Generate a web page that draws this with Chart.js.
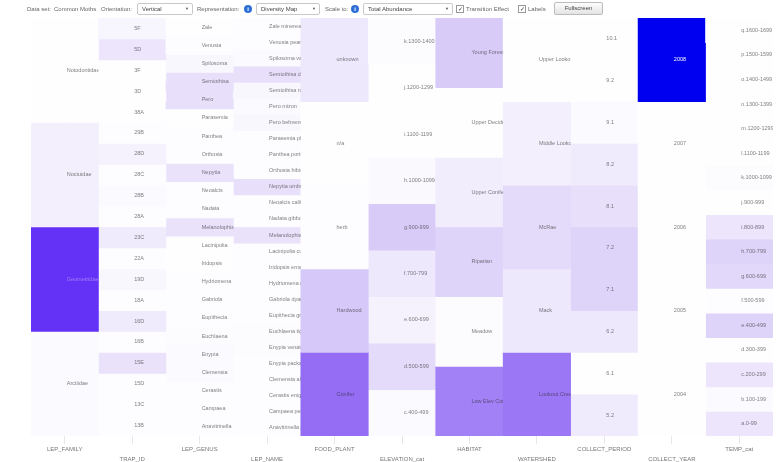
<!DOCTYPE html>
<html>
<head>
<meta charset="utf-8">
<script src="https://cdn.jsdelivr.net/npm/chart.js@4.4.0/dist/chart.umd.min.js"></script>
<style>
  html, body { margin: 0; padding: 0; background: #fff; }
  #wrap { position: relative; width: 778px; height: 462px; overflow: hidden; }
  #chart { position: absolute; left: 0; top: 0; }
  .bar { position: absolute; left: 0; top: 0; width: 778px; height: 18px; font: 6px "Liberation Sans", Arial, sans-serif; color: #666; }
  .bar > div { position: absolute; }
  .txt { top: 6px; white-space: nowrap; }
  .sel { top: 3px; height: 12px; border: 1px solid #c9c9c9; border-radius: 2px; background: #fff; box-sizing: border-box; line-height: 10px; padding-left: 4px; color: #444; }
  .sel span { position: absolute; right: 3px; top: 0; font-size: 4px; color: #555; }
  .info { top: 5px; width: 8px; height: 8px; border-radius: 50%; background: #2d6fd6; color: #fff; font: bold 6px "Liberation Sans", Arial, sans-serif; text-align: center; line-height: 8px; }
  .chk { top: 5px; width: 6px; height: 6px; border: 1px solid #999; background: #fff; font-size: 6px; line-height: 6px; color: #333; text-align: center; }
  .btn { top: 2px; height: 13px; border: 1px solid #bbb; border-radius: 2px; background: linear-gradient(#fdfdfd, #e4e4e4); box-sizing: border-box; text-align: center; line-height: 11px; color: #444; }
</style>
</head>
<body>
<div id="wrap">
  <canvas id="chart" width="778" height="462"></canvas>
  <div class="bar">
    <div class="txt" style="left:27px">Data set:</div>
    <div class="txt" style="left:54px">Common Moths</div>
    <div class="txt" style="left:101px">Orientation:</div>
    <div class="sel" style="left:137px;width:56px">Vertical<span>&#9660;</span></div>
    <div class="txt" style="left:197px">Representation:</div>
    <div class="info" style="left:244px">i</div>
    <div class="sel" style="left:256px;width:64px">Diversity Map<span>&#9660;</span></div>
    <div class="txt" style="left:325px">Scale to:</div>
    <div class="info" style="left:351px">i</div>
    <div class="sel" style="left:363px;width:90px">Total Abundance<span>&#9660;</span></div>
    <div class="chk" style="left:456px">&#10003;</div>
    <div class="txt" style="left:466px">Transition Effect</div>
    <div class="chk" style="left:518px">&#10003;</div>
    <div class="txt" style="left:528px">Labels</div>
    <div class="btn" style="left:554px;width:49px">Fullscreen</div>
  </div>
</div>
<script>
// columns of the diversity map
const columns = ['LEP_FAMILY', 'TRAP_ID', 'LEP_GENUS', 'LEP_NAME', 'FOOD_PLANT', 'ELEVATION_cat',
  'HABITAT', 'WATERSHED', 'COLLECT_PERIOD', 'COLLECT_YEAR', 'TEMP_cat'];

// categories and abundance (relative, 0-100) per column, top to bottom
const familyCats = ['Notodontidae', 'Noctuidae', 'Geometridae', 'Arctiidae'];
const familyVals = [0.5, 6, 70, 2];

const trapCats = ['5F', '5D', '3F', '3D', '38A', '29B', '28D', '28C', '28B', '28A',
  '23C', '22A', '19D', '18A', '16D', '16B', '15E', '15D', '13C', '13B'];
const trapVals = [4, 10, 0.5, 0.5, 0.5, 1, 5, 1, 2, 1, 8, 1, 3, 1, 8, 1, 11, 1, 1, 1];

const genusCats = ['Zale', 'Venusia', 'Spilosoma', 'Semiothisa', 'Pero', 'Parasemia', 'Panthea',
  'Orthosia', 'Nepytia', 'Neoalcis', 'Nadata', 'Melanolophia', 'Lacinipolia', 'Iridopsis',
  'Hydriomena', 'Gabriola', 'Eupithecia', 'Euchlaena', 'Enypia', 'Clemensia', 'Cerastis',
  'Campaea', 'Anavitrinella'];
const genusVals = [0.5, 1, 3, 12, 12, 0.5, 1, 1, 11, 1, 1, 11, 0.5, 0.5, 1, 1, 1, 1.5, 2, 2, 1, 1, 1];

const nameCats = ['Zale minerea', 'Venusia pearsalli', 'Spilosoma vagans', 'Semiothisa denticulata',
  'Semiothisa neptaria', 'Pero mizon', 'Pero behrensaria', 'Parasemia plantaginis',
  'Panthea portlandia', 'Orthosia hibisci', 'Nepytia umbrosaria', 'Neoalcis californiaria',
  'Nadata gibbosa', 'Melanolophia imitata', 'Lacinipolia cuneata', 'Iridopsis emasculata',
  'Hydriomena nubilofasciata', 'Gabriola dyari', 'Eupithecia graefii', 'Euchlaena tigrinaria',
  'Enypia venata', 'Enypia packardata', 'Clemensia albata', 'Cerastis enigmatica',
  'Campaea perlata', 'Anavitrinella pampinaria'];
const nameVals = [1, 1, 2, 12, 3, 2, 3, 1, 1, 1, 12, 1, 1, 11, 1, 1, 1, 1, 1, 1.5, 1.5, 1, 1, 1, 1, 1];

const foodCats = ['unknown', 'n/a', 'herb', 'Hardwood', 'Conifer'];
const foodVals = [9, 0.5, 1, 21, 52];

const elevCats = ['k.1300-1400', 'j.1200-1299', 'i.1100-1199', 'h.1000-1099', 'g.900-999',
  'f.700-799', 'e.600-699', 'd.500-599', 'c.400-499'];
const elevVals = [1.5, 0.5, 0.5, 2.5, 20, 9, 5, 14, 2];

const habitatCats = ['Young Forest', 'Upper Deciduous', 'Upper Conifer', 'Riparian', 'Meadow', 'Low Elev Conifer'];
const habitatVals = [20, 0.5, 7, 17, 1.5, 46];

const shedCats = ['Upper Lookout', 'Middle Lookout', 'McRae', 'Mack', 'Lookout Creek'];
const shedVals = [0.5, 6, 14, 9, 49];

const periodCats = ['10.1', '9.2', '9.1', '8.2', '8.1', '7.2', '7.1', '6.2', '6.1', '5.2'];
const periodVals = [0.5, 0.5, 2, 8, 12, 17, 17, 9, 0.5, 8];

const yearCats = ['2008', '2007', '2006', '2005', '2004'];
const yearVals = [100, 0.5, 0.5, 0.5, 0.5];

const tempCats = ['q.1600-1699', 'p.1500-1599', 'o.1400-1499', 'n.1300-1399', 'm.1200-1299',
  'l.1100-1199', 'k.1000-1099', 'j.900-999', 'i.800-899', 'h.700-799', 'g.600-699',
  'f.500-599', 'e.400-499', 'd.300-399', 'c.200-299', 'b.100-199', 'a.0-99'];
const tempVals = [0.5, 0.5, 0.5, 0.5, 0.5, 0.5, 1.5, 0.5, 10, 17, 15, 1, 17, 0.5, 10, 2, 10];

const cats = [familyCats, trapCats, genusCats, nameCats, foodCats, elevCats,
  habitatCats, shedCats, periodCats, yearCats, tempCats];
const vals = [familyVals, trapVals, genusVals, nameVals, foodVals, elevVals,
  habitatVals, shedVals, periodVals, yearVals, tempVals];

// white -> lavender -> purple -> blue
const ramp = [[0, [255, 255, 255]], [20, [216, 203, 248]], [50, [154, 116, 245]], [70, [100, 50, 246]], [100, [0, 0, 240]]];
function shade(v) {
  for (let k = 1; k < ramp.length; k++) {
    if (v <= ramp[k][0]) {
      const t = (v - ramp[k - 1][0]) / (ramp[k][0] - ramp[k - 1][0]);
      const a = ramp[k - 1][1], b = ramp[k][1];
      return 'rgb(' + a.map((c, i) => Math.round(c + (b[i] - c) * t)).join(',') + ')';
    }
  }
  return 'rgb(0,0,240)';
}

// one dataset per cell row, floating bars stacked from top
const maxCells = Math.max(...cats.map(c => c.length));
const datasets = [];
for (let j = 0; j < maxCells; j++) {
  datasets.push({
    data: cats.map(c => j < c.length ? [j / c.length, (j + 1) / c.length] : null),
    backgroundColor: vals.map(v => j < v.length ? shade(v[j]) : 'transparent'),
    borderWidth: 0,
    grouped: false,
    barPercentage: 1,
    categoryPercentage: 1
  });
}

// text inside the cells, clipped to its column
const cellLabels = {
  id: 'cellLabels',
  afterDatasetsDraw(chart) {
    const ctx = chart.ctx;
    const xs = chart.scales.x, ys = chart.scales.y;
    const area = chart.chartArea;
    const half = (area.right - area.left) / columns.length / 2;
    ctx.save();
    ctx.font = '5.5px "Liberation Sans", Arial, sans-serif';
    ctx.textBaseline = 'middle';
    ctx.textAlign = 'left';
    cats.forEach((list, i) => {
      const cx = xs.getPixelForValue(i);
      ctx.save();
      ctx.beginPath();
      ctx.rect(cx, area.top, half, area.bottom - area.top);
      ctx.clip();
      list.forEach((name, j) => {
        const v = vals[i][j];
        ctx.fillStyle = v >= 90 ? '#ffffff' : v >= 60 ? 'rgba(255,255,255,0.35)' : 'rgba(40,40,40,0.6)';
        ctx.fillText(name, cx + 2, ys.getPixelForValue((j + 0.5) / list.length));
      });
      ctx.restore();
    });
    ctx.restore();
  }
};

new Chart(document.getElementById('chart'), {
  type: 'bar',
  data: { labels: columns, datasets: datasets },
  options: {
    responsive: false,
    animation: false,
    devicePixelRatio: 1,
    layout: { padding: { top: 18, left: 31, right: 5, bottom: 0 } },
    plugins: { legend: { display: false }, tooltip: { enabled: false } },
    scales: {
      x: {
        z: 1,
        offset: true,
        grid: { offset: false, color: 'rgba(185,185,205,0.35)', tickLength: 8 },
        border: { display: false },
        ticks: {
          autoSkip: false,
          maxRotation: 0,
          padding: 0,
          color: '#777',
          font: { size: 6, family: '"Liberation Sans", Arial, sans-serif', lineHeight: 1.7 },
          callback: (v, i) => i % 2 ? ['', columns[i]] : columns[i]
        },
        afterFit(s) { s.height = 26; }
      },
      y: { display: false, min: 0, max: 1, reverse: true }
    }
  },
  plugins: [cellLabels]
});
</script>
</body>
</html>
